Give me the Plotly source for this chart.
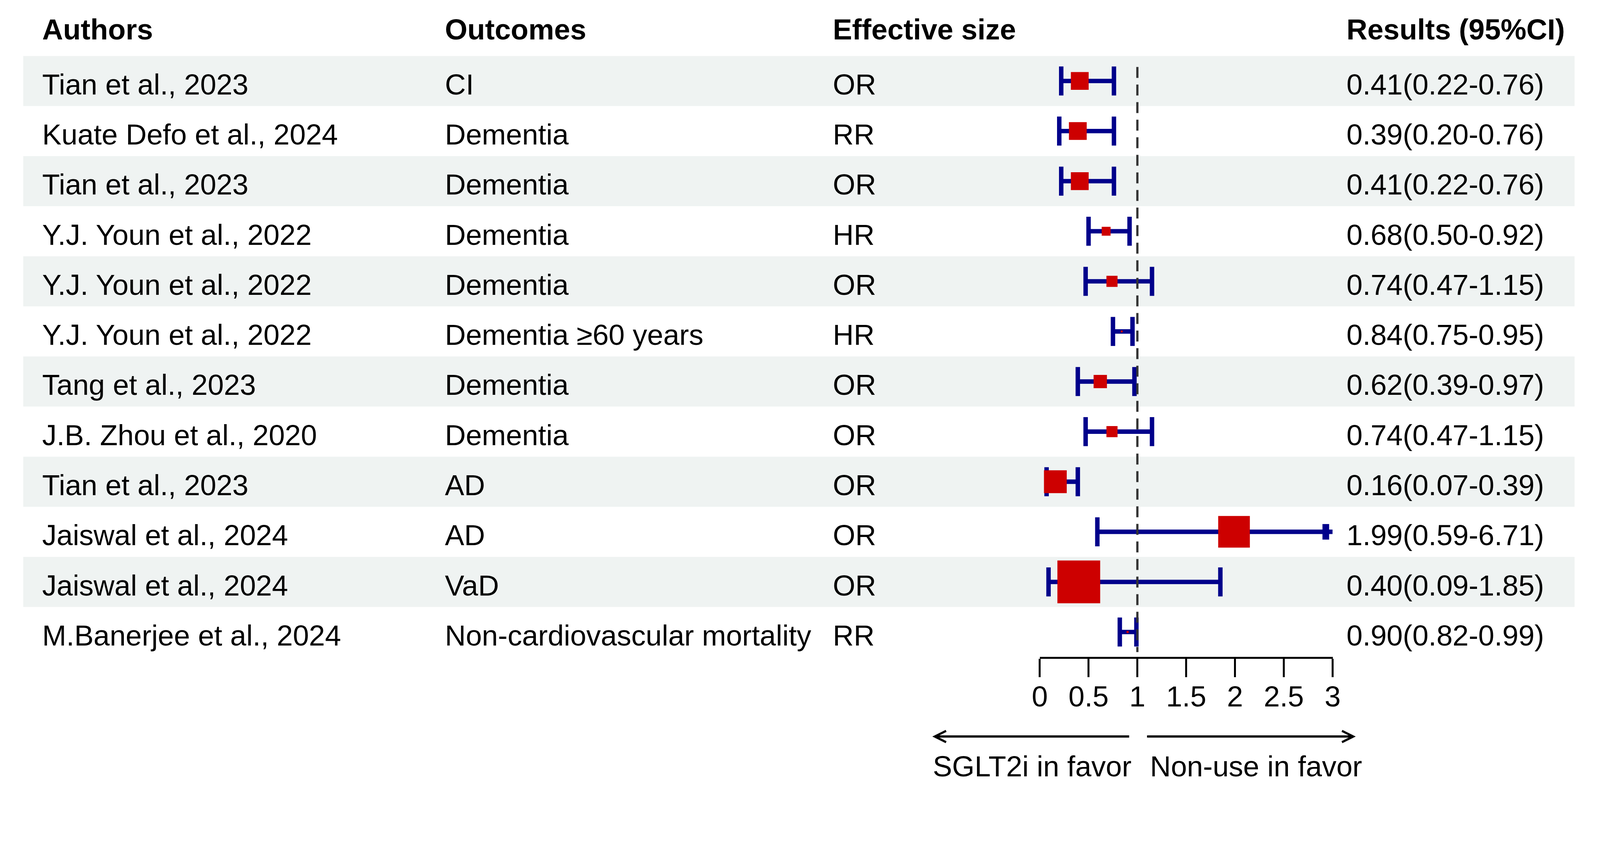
import plotly.graph_objects as go

# ---- data ----
authors = [
    "Tian et al., 2023", "Kuate Defo et al., 2024", "Tian et al., 2023",
    "Y.J. Youn et al., 2022", "Y.J. Youn et al., 2022", "Y.J. Youn et al., 2022",
    "Tang et al., 2023", "J.B. Zhou et al., 2020", "Tian et al., 2023",
    "Jaiswal et al., 2024", "Jaiswal et al., 2024", "M.Banerjee et al., 2024",
]
outcomes = [
    "CI", "Dementia", "Dementia", "Dementia", "Dementia", "Dementia ≥60 years",
    "Dementia", "Dementia", "AD", "AD", "VaD", "Non-cardiovascular mortality",
]
effect_type = ["OR", "RR", "OR", "HR", "OR", "HR", "OR", "OR", "OR", "OR", "OR", "RR"]
estimate = [0.41, 0.39, 0.41, 0.68, 0.74, 0.84, 0.62, 0.74, 0.16, 1.99, 0.40, 0.90]
lower = [0.22, 0.20, 0.22, 0.50, 0.47, 0.75, 0.39, 0.47, 0.07, 0.59, 0.09, 0.82]
upper = [0.76, 0.76, 0.76, 0.92, 1.15, 0.95, 0.97, 1.15, 0.39, 6.71, 1.85, 0.99]
# relative box weights (box side in the picture)
weight = [0.32, 0.32, 0.32, 0.16, 0.20, 0.035, 0.24, 0.20, 0.41, 0.57, 0.77, 0.04]

headers = ["Authors", "Outcomes", "Effective size", "Results (95%CI)"]
tick_vals = [0, 0.5, 1, 1.5, 2, 2.5, 3]
tick_text = ["0", "0.5", "1", "1.5", "2", "2.5", "3"]
left_label = "SGLT2i in favor"
right_label = "Non-use in favor"

# ---- geometry ----
# reference measured on a 4320 x 2174 picture; the page viewport is 4096 x 2048
REF_W, REF_H = 4320, 2174
W, H = 4096, 2048
S = W / REF_W  # pixel-size scale
FONT = "Liberation Sans, Arial, sans-serif"
FS = 74
NAVY = "#00008B"
RED = "#CD0000"
STRIPE = "#EFF3F2"
x_min, x_max = 0, 3
rows = list(range(1, len(authors) + 1))


def px(x):
    return x / REF_W


def py(y):
    return 1 - y / REF_H


results = [f"{e:.2f}({l:.2f}-{u:.2f})" for e, l, u in zip(estimate, lower, upper)]

fig = go.Figure()

# CI lines (clipped to the axis range)
ci_x, ci_y = [], []
cap_x, cap_y = [], []
arrow_x, arrow_y = [], []
for r, lo, hi in zip(rows, lower, upper):
    lo_c = max(lo, x_min)
    hi_c = min(hi, x_max)
    ci_x += [lo_c, hi_c, None]
    ci_y += [r, r, None]
    if lo >= x_min:
        cap_x.append(lo)
        cap_y.append(r)
    if hi <= x_max:
        cap_x.append(hi)
        cap_y.append(r)
    else:
        arrow_x.append(x_max - 0.07)
        arrow_y.append(r)

fig.add_trace(go.Scatter(x=ci_x, y=ci_y, mode="lines",
                         line=dict(color=NAVY, width=12 * S), cliponaxis=False,
                         hoverinfo="skip"))
fig.add_trace(go.Scatter(x=cap_x, y=cap_y, mode="markers", cliponaxis=False,
                         marker=dict(symbol="line-ns", size=56 * S, opacity=1,
                                     line=dict(color=NAVY, width=12 * S)),
                         hoverinfo="skip"))
fig.add_trace(go.Scatter(x=arrow_x, y=arrow_y, mode="markers", cliponaxis=False,
                         marker=dict(symbol="line-ns", size=30 * S, opacity=1,
                                     line=dict(color=NAVY, width=18 * S)),
                         hoverinfo="skip"))
# point estimate boxes
fig.add_trace(go.Scatter(x=estimate, y=rows, mode="markers", cliponaxis=False,
                         marker=dict(symbol="square", color=RED, opacity=1,
                                     size=[w * 150 * S for w in weight],
                                     line=dict(width=0))))

# striped rows
for r in rows:
    if r % 2 == 1:
        fig.add_shape(type="rect", xref="paper", yref="y",
                      x0=px(41), x1=px(4273), y0=r - 0.5, y1=r + 0.5,
                      fillcolor=STRIPE, line=dict(width=0), layer="below")

# reference line at 1
fig.add_shape(type="line", xref="x", yref="y", x0=1, x1=1, y0=0.72, y1=12.4,
              line=dict(color="#333333", width=6 * S, dash="28px,17px"),
              layer="above")

# table text
col_x = [92, 1190, 2248, 3650]
annotations = []
for cx, h in zip(col_x, headers):
    annotations.append(dict(x=px(cx), y=py(80), xref="paper", yref="paper",
                            text=f"<b>{h}</b>", showarrow=False,
                            xanchor="left", yanchor="middle", borderpad=0,
                            font=dict(family=FONT, size=FS, color="black")))
for r, a, o, t, res in zip(rows, authors, outcomes, effect_type, results):
    for cx, txt in zip(col_x, [a, o, t, res]):
        annotations.append(dict(x=px(cx), y=r, xref="paper", yref="y",
                                text=txt, showarrow=False, yshift=-9,
                                xanchor="left", yanchor="middle", borderpad=0,
                                font=dict(family=FONT, size=FS, color="black")))

# direction arrows + labels
arrow_yp = py(2002)
annotations.append(dict(x=px(2521), y=arrow_yp, xref="paper", yref="paper",
                        ax=(3054 - 2521) * S, ay=0, text="", showarrow=True,
                        arrowhead=5, arrowsize=1, arrowwidth=6 * S,
                        arrowcolor="black"))
annotations.append(dict(x=px(3676), y=arrow_yp, xref="paper", yref="paper",
                        ax=(3111 - 3676) * S, ay=0, text="", showarrow=True,
                        arrowhead=5, arrowsize=1, arrowwidth=6 * S,
                        arrowcolor="black"))
annotations.append(dict(x=px(2521), y=py(2083), xref="paper", yref="paper",
                        text=left_label, showarrow=False, xanchor="left",
                        yanchor="middle", borderpad=0,
                        font=dict(family=FONT, size=FS, color="black")))
annotations.append(dict(x=px(3114), y=py(2083), xref="paper", yref="paper",
                        text=right_label, showarrow=False, xanchor="left",
                        yanchor="middle", borderpad=0,
                        font=dict(family=FONT, size=FS, color="black")))

fig.update_layout(
    width=W, height=H,
    margin=dict(l=0, r=0, t=0, b=0),
    paper_bgcolor="white", plot_bgcolor="rgba(0,0,0,0)",
    showlegend=False,
    annotations=annotations,
    xaxis=dict(domain=[px(2814), px(3613)], range=[x_min, x_max],
               showgrid=False, zeroline=False, showline=True,
               linecolor="black", linewidth=5, ticks="outside", ticklen=47,
               tickwidth=5, tickcolor="black", tickvals=tick_vals,
               ticktext=tick_text, ticklabelstandoff=-14,
               tickfont=dict(family=FONT, size=FS, color="black")),
    yaxis=dict(domain=[py(1786), py(152)], range=[12.5, 0.5],
               showgrid=False, zeroline=False, showline=False,
               showticklabels=False, ticks=""),
)

fig.write_html("out.html", config={"displayModeBar": False},
               post_script="document.body.style.margin='0';")
